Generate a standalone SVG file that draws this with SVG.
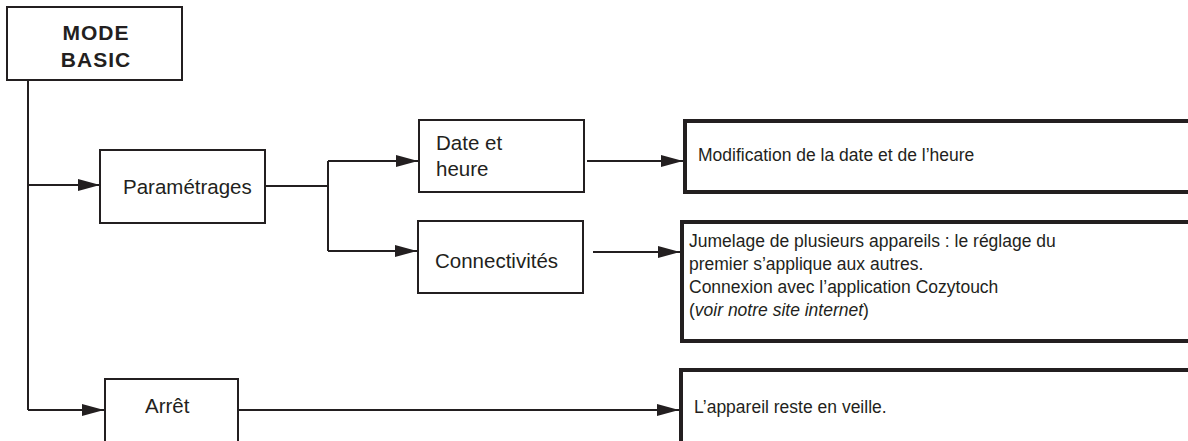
<svg xmlns="http://www.w3.org/2000/svg" width="1188" height="441" viewBox="0 0 1188 441">
<style>
.box{fill:#fff;stroke:#231f20;stroke-width:2}
.res{fill:#fff;stroke:#231f20;stroke-width:4}
.t{font-family:"Liberation Sans",Arial,sans-serif;font-size:20.5px;fill:#231f20}
.r{font-family:"Liberation Sans",Arial,sans-serif;font-size:17.5px;fill:#231f20}
.b{font-family:"Liberation Sans",Arial,sans-serif;font-size:21px;font-weight:bold;fill:#231f20;letter-spacing:1px}
.c{fill:none;stroke:#231f20;stroke-width:2}
</style>
<defs>
<marker id="ah" markerUnits="userSpaceOnUse" markerWidth="24" markerHeight="14" refX="22" refY="6" orient="auto">
<path d="M0,0 L22,6 L0,12 Z" fill="#231f20"/>
</marker>
</defs>
<g id="connectors">
<path class="c" d="M28,80 V410"/>
<path class="c" d="M28,185 H100" marker-end="url(#ah)"/>
<path class="c" d="M265,186 H328"/>
<path class="c" d="M328,161 V251"/>
<path class="c" d="M328,161 H418" marker-end="url(#ah)"/>
<path class="c" d="M328,251 H417" marker-end="url(#ah)"/>
<path class="c" d="M587,161 H683" marker-end="url(#ah)"/>
<path class="c" d="M593,252 H680" marker-end="url(#ah)"/>
<path class="c" d="M28,410 H104" marker-end="url(#ah)"/>
<path class="c" d="M238,410 H679" marker-end="url(#ah)"/>
</g>
<g id="mode-basic">
<rect class="box" x="7" y="7" width="175" height="73"/>
<text class="b" x="96" y="40" text-anchor="middle">MODE</text>
<text class="b" x="96" y="67" text-anchor="middle">BASIC</text>
</g>
<g id="parametrages">
<rect class="box" x="100" y="150" width="165" height="73"/>
<text class="t" x="123" y="194">Paramétrages</text>
</g>
<g id="date-heure">
<rect class="box" x="419" y="120" width="165" height="72"/>
<text class="t" x="436" y="150">Date et</text>
<text class="t" x="436" y="176">heure</text>
</g>
<g id="connectivites">
<rect class="box" x="418" y="221" width="165" height="72"/>
<text class="t" x="435" y="268">Connectivités</text>
</g>
<g id="arret">
<rect class="box" x="105" y="379" width="133" height="80"/>
<text class="t" x="145" y="413">Arrêt</text>
</g>
<g id="res-date">
<rect class="res" x="685" y="121" width="520" height="71"/>
<text class="r" x="698" y="161">Modification de la date et de l’heure</text>
</g>
<g id="res-connect">
<rect class="res" x="682" y="222" width="520" height="119"/>
<text class="r" x="689" y="247">Jumelage de plusieurs appareils : le réglage du</text>
<text class="r" x="689" y="270">premier s’applique aux autres.</text>
<text class="r" x="689" y="293">Connexion avec l’application Cozytouch</text>
<text class="r" x="689" y="316">(<tspan font-style="italic">voir notre site internet</tspan>)</text>
</g>
<g id="res-arret">
<rect class="res" x="681" y="370" width="520" height="90"/>
<text class="r" x="694" y="413">L’appareil reste en veille.</text>
</g>
</svg>
